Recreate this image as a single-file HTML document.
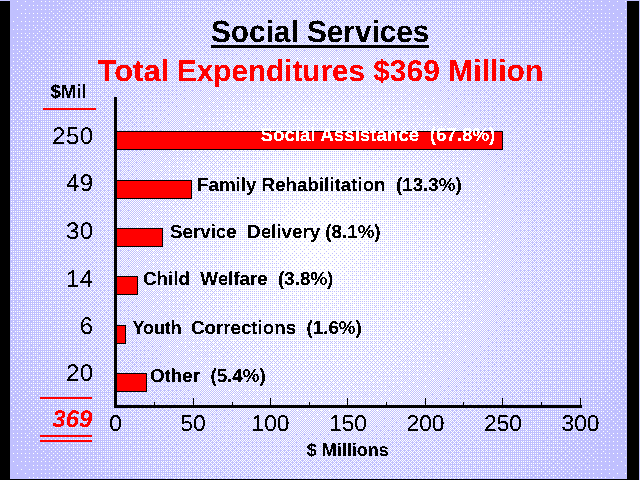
<!DOCTYPE html>
<html><head><meta charset="utf-8"><title>Social Services</title>
<style>
html,body{margin:0;padding:0;background:#000;overflow:hidden;}
svg{display:block;}
text{font-family:"Liberation Sans",sans-serif;text-rendering:geometricPrecision;}
.b{font-weight:bold;}
</style></head><body>
<svg width="640" height="480" viewBox="0 0 640 480">
<defs>
<clipPath id="slide"><rect x="10" y="0" width="617" height="479"/></clipPath>
<pattern id="p0" patternUnits="userSpaceOnUse" x="0" y="0" width="8" height="8"><rect x="1" y="1" width="1" height="1" fill="#fff"/></pattern>
<pattern id="p1" patternUnits="userSpaceOnUse" x="0" y="0" width="8" height="8"><rect x="5" y="5" width="1" height="1" fill="#fff"/></pattern>
<pattern id="p2" patternUnits="userSpaceOnUse" x="0" y="0" width="8" height="8"><rect x="1" y="5" width="1" height="1" fill="#fff"/></pattern>
<pattern id="p3" patternUnits="userSpaceOnUse" x="0" y="0" width="8" height="8"><rect x="5" y="1" width="1" height="1" fill="#fff"/></pattern>
<pattern id="p4" patternUnits="userSpaceOnUse" x="0" y="0" width="8" height="8"><rect x="3" y="3" width="1" height="1" fill="#fff"/></pattern>
<pattern id="p5" patternUnits="userSpaceOnUse" x="0" y="0" width="8" height="8"><rect x="7" y="7" width="1" height="1" fill="#fff"/></pattern>
<pattern id="p6" patternUnits="userSpaceOnUse" x="0" y="0" width="8" height="8"><rect x="3" y="7" width="1" height="1" fill="#fff"/></pattern>
<pattern id="p7" patternUnits="userSpaceOnUse" x="0" y="0" width="8" height="8"><rect x="7" y="3" width="1" height="1" fill="#fff"/></pattern>
<pattern id="p8" patternUnits="userSpaceOnUse" x="0" y="0" width="8" height="8"><rect x="1" y="3" width="1" height="1" fill="#fff"/></pattern>
<pattern id="p9" patternUnits="userSpaceOnUse" x="0" y="0" width="8" height="8"><rect x="5" y="7" width="1" height="1" fill="#fff"/></pattern>
<pattern id="p10" patternUnits="userSpaceOnUse" x="0" y="0" width="8" height="8"><rect x="1" y="7" width="1" height="1" fill="#fff"/></pattern>
<pattern id="p11" patternUnits="userSpaceOnUse" x="0" y="0" width="8" height="8"><rect x="5" y="3" width="1" height="1" fill="#fff"/></pattern>
<pattern id="p12" patternUnits="userSpaceOnUse" x="0" y="0" width="8" height="8"><rect x="3" y="1" width="1" height="1" fill="#fff"/></pattern>
<pattern id="p13" patternUnits="userSpaceOnUse" x="0" y="0" width="8" height="8"><rect x="7" y="5" width="1" height="1" fill="#fff"/></pattern>
<pattern id="p14" patternUnits="userSpaceOnUse" x="0" y="0" width="8" height="8"><rect x="3" y="5" width="1" height="1" fill="#fff"/></pattern>
<pattern id="p15" patternUnits="userSpaceOnUse" x="0" y="0" width="8" height="8"><rect x="7" y="1" width="1" height="1" fill="#fff"/></pattern>
<pattern id="p16" patternUnits="userSpaceOnUse" x="0" y="0" width="8" height="8"><rect x="2" y="2" width="1" height="1" fill="#fff"/></pattern>
<pattern id="p17" patternUnits="userSpaceOnUse" x="0" y="0" width="8" height="8"><rect x="6" y="6" width="1" height="1" fill="#fff"/></pattern>
<pattern id="p18" patternUnits="userSpaceOnUse" x="0" y="0" width="8" height="8"><rect x="2" y="6" width="1" height="1" fill="#fff"/></pattern>
<pattern id="p19" patternUnits="userSpaceOnUse" x="0" y="0" width="8" height="8"><rect x="6" y="2" width="1" height="1" fill="#fff"/></pattern>
<pattern id="p20" patternUnits="userSpaceOnUse" x="0" y="0" width="8" height="8"><rect x="4" y="4" width="1" height="1" fill="#fff"/></pattern>
<pattern id="p21" patternUnits="userSpaceOnUse" x="0" y="0" width="8" height="8"><rect x="0" y="0" width="1" height="1" fill="#fff"/></pattern>
<pattern id="p22" patternUnits="userSpaceOnUse" x="0" y="0" width="8" height="8"><rect x="4" y="0" width="1" height="1" fill="#fff"/></pattern>
<pattern id="p23" patternUnits="userSpaceOnUse" x="0" y="0" width="8" height="8"><rect x="0" y="4" width="1" height="1" fill="#fff"/></pattern>
<pattern id="p24" patternUnits="userSpaceOnUse" x="0" y="0" width="8" height="8"><rect x="2" y="4" width="1" height="1" fill="#fff"/></pattern>
<pattern id="p25" patternUnits="userSpaceOnUse" x="0" y="0" width="8" height="8"><rect x="6" y="0" width="1" height="1" fill="#fff"/></pattern>
<pattern id="p26" patternUnits="userSpaceOnUse" x="0" y="0" width="8" height="8"><rect x="2" y="0" width="1" height="1" fill="#fff"/></pattern>
<pattern id="p27" patternUnits="userSpaceOnUse" x="0" y="0" width="8" height="8"><rect x="6" y="4" width="1" height="1" fill="#fff"/></pattern>
<pattern id="p28" patternUnits="userSpaceOnUse" x="0" y="0" width="8" height="8"><rect x="4" y="2" width="1" height="1" fill="#fff"/></pattern>
<pattern id="p29" patternUnits="userSpaceOnUse" x="0" y="0" width="8" height="8"><rect x="0" y="6" width="1" height="1" fill="#fff"/></pattern>
<pattern id="p30" patternUnits="userSpaceOnUse" x="0" y="0" width="8" height="8"><rect x="4" y="6" width="1" height="1" fill="#fff"/></pattern>
<pattern id="p31" patternUnits="userSpaceOnUse" x="0" y="0" width="8" height="8"><rect x="0" y="2" width="1" height="1" fill="#fff"/></pattern>
<pattern id="p32" patternUnits="userSpaceOnUse" x="0" y="0" width="8" height="8"><rect x="1" y="2" width="1" height="1" fill="#fff"/></pattern>
<pattern id="p33" patternUnits="userSpaceOnUse" x="0" y="0" width="8" height="8"><rect x="5" y="6" width="1" height="1" fill="#fff"/></pattern>
<pattern id="p34" patternUnits="userSpaceOnUse" x="0" y="0" width="8" height="8"><rect x="1" y="6" width="1" height="1" fill="#fff"/></pattern>
<pattern id="p35" patternUnits="userSpaceOnUse" x="0" y="0" width="8" height="8"><rect x="5" y="2" width="1" height="1" fill="#fff"/></pattern>
<pattern id="p36" patternUnits="userSpaceOnUse" x="0" y="0" width="8" height="8"><rect x="3" y="4" width="1" height="1" fill="#fff"/></pattern>
<pattern id="p37" patternUnits="userSpaceOnUse" x="0" y="0" width="8" height="8"><rect x="7" y="0" width="1" height="1" fill="#fff"/></pattern>
<pattern id="p38" patternUnits="userSpaceOnUse" x="0" y="0" width="8" height="8"><rect x="3" y="0" width="1" height="1" fill="#fff"/></pattern>
<pattern id="p39" patternUnits="userSpaceOnUse" x="0" y="0" width="8" height="8"><rect x="7" y="4" width="1" height="1" fill="#fff"/></pattern>
<pattern id="p40" patternUnits="userSpaceOnUse" x="0" y="0" width="8" height="8"><rect x="1" y="4" width="1" height="1" fill="#fff"/></pattern>
<pattern id="p41" patternUnits="userSpaceOnUse" x="0" y="0" width="8" height="8"><rect x="5" y="0" width="1" height="1" fill="#fff"/></pattern>
<pattern id="p42" patternUnits="userSpaceOnUse" x="0" y="0" width="8" height="8"><rect x="1" y="0" width="1" height="1" fill="#fff"/></pattern>
<pattern id="p43" patternUnits="userSpaceOnUse" x="0" y="0" width="8" height="8"><rect x="5" y="4" width="1" height="1" fill="#fff"/></pattern>
<pattern id="p44" patternUnits="userSpaceOnUse" x="0" y="0" width="8" height="8"><rect x="3" y="2" width="1" height="1" fill="#fff"/></pattern>
<pattern id="p45" patternUnits="userSpaceOnUse" x="0" y="0" width="8" height="8"><rect x="7" y="6" width="1" height="1" fill="#fff"/></pattern>
<pattern id="p46" patternUnits="userSpaceOnUse" x="0" y="0" width="8" height="8"><rect x="3" y="6" width="1" height="1" fill="#fff"/></pattern>
<pattern id="p47" patternUnits="userSpaceOnUse" x="0" y="0" width="8" height="8"><rect x="7" y="2" width="1" height="1" fill="#fff"/></pattern>
<pattern id="p48" patternUnits="userSpaceOnUse" x="0" y="0" width="8" height="8"><rect x="2" y="1" width="1" height="1" fill="#fff"/></pattern>
<pattern id="p49" patternUnits="userSpaceOnUse" x="0" y="0" width="8" height="8"><rect x="6" y="5" width="1" height="1" fill="#fff"/></pattern>
<pattern id="p50" patternUnits="userSpaceOnUse" x="0" y="0" width="8" height="8"><rect x="2" y="5" width="1" height="1" fill="#fff"/></pattern>
<pattern id="p51" patternUnits="userSpaceOnUse" x="0" y="0" width="8" height="8"><rect x="6" y="1" width="1" height="1" fill="#fff"/></pattern>
<pattern id="p52" patternUnits="userSpaceOnUse" x="0" y="0" width="8" height="8"><rect x="4" y="3" width="1" height="1" fill="#fff"/></pattern>
<pattern id="p53" patternUnits="userSpaceOnUse" x="0" y="0" width="8" height="8"><rect x="0" y="7" width="1" height="1" fill="#fff"/></pattern>
<pattern id="p54" patternUnits="userSpaceOnUse" x="0" y="0" width="8" height="8"><rect x="4" y="7" width="1" height="1" fill="#fff"/></pattern>
<pattern id="p55" patternUnits="userSpaceOnUse" x="0" y="0" width="8" height="8"><rect x="0" y="3" width="1" height="1" fill="#fff"/></pattern>
<pattern id="p56" patternUnits="userSpaceOnUse" x="0" y="0" width="8" height="8"><rect x="2" y="3" width="1" height="1" fill="#fff"/></pattern>
<pattern id="p57" patternUnits="userSpaceOnUse" x="0" y="0" width="8" height="8"><rect x="6" y="7" width="1" height="1" fill="#fff"/></pattern>
<pattern id="p58" patternUnits="userSpaceOnUse" x="0" y="0" width="8" height="8"><rect x="2" y="7" width="1" height="1" fill="#fff"/></pattern>
<filter id="al" x="0" y="0" width="640" height="480" filterUnits="userSpaceOnUse" color-interpolation-filters="sRGB"><feComponentTransfer><feFuncA type="discrete" tableValues="0 0 0 0 0 0 0 0 0 1 1 1 1 1 1 1 1 1 1 1"/></feComponentTransfer></filter>
</defs>
<rect x="0" y="0" width="640" height="480" fill="#c0c0ff"/>
<rect x="0" y="1" width="639" height="479" fill="#000"/>
<rect x="10" y="0" width="617" height="479" fill="#c0c0ff"/>
<g clip-path="url(#slide)" shape-rendering="crispEdges">
<circle cx="318.5" cy="240" r="390.1" fill="url(#p0)"/>
<circle cx="318.5" cy="240" r="379.3" fill="url(#p1)"/>
<circle cx="318.5" cy="240" r="371.5" fill="url(#p2)"/>
<circle cx="318.5" cy="240" r="363.7" fill="url(#p3)"/>
<circle cx="318.5" cy="240" r="355.8" fill="url(#p4)"/>
<circle cx="318.5" cy="240" r="349.3" fill="url(#p5)"/>
<circle cx="318.5" cy="240" r="344.1" fill="url(#p6)"/>
<circle cx="318.5" cy="240" r="338.8" fill="url(#p7)"/>
<circle cx="318.5" cy="240" r="333.5" fill="url(#p8)"/>
<circle cx="318.5" cy="240" r="328.2" fill="url(#p9)"/>
<circle cx="318.5" cy="240" r="323.0" fill="url(#p10)"/>
<circle cx="318.5" cy="240" r="317.7" fill="url(#p11)"/>
<circle cx="318.5" cy="240" r="312.4" fill="url(#p12)"/>
<circle cx="318.5" cy="240" r="307.2" fill="url(#p13)"/>
<circle cx="318.5" cy="240" r="301.9" fill="url(#p14)"/>
<circle cx="318.5" cy="240" r="296.6" fill="url(#p15)"/>
<circle cx="318.5" cy="240" r="290.8" fill="url(#p16)"/>
<circle cx="318.5" cy="240" r="284.2" fill="url(#p17)"/>
<circle cx="318.5" cy="240" r="277.8" fill="url(#p18)"/>
<circle cx="318.5" cy="240" r="271.2" fill="url(#p19)"/>
<circle cx="318.5" cy="240" r="264.8" fill="url(#p20)"/>
<circle cx="318.5" cy="240" r="258.2" fill="url(#p21)"/>
<circle cx="318.5" cy="240" r="251.8" fill="url(#p22)"/>
<circle cx="318.5" cy="240" r="245.2" fill="url(#p23)"/>
<circle cx="318.5" cy="240" r="238.1" fill="url(#p24)"/>
<circle cx="318.5" cy="240" r="230.4" fill="url(#p25)"/>
<circle cx="318.5" cy="240" r="222.6" fill="url(#p26)"/>
<circle cx="318.5" cy="240" r="214.9" fill="url(#p27)"/>
<circle cx="318.5" cy="240" r="208.0" fill="url(#p28)"/>
<circle cx="318.5" cy="240" r="202.0" fill="url(#p29)"/>
<circle cx="318.5" cy="240" r="196.0" fill="url(#p30)"/>
<circle cx="318.5" cy="240" r="190.0" fill="url(#p31)"/>
<circle cx="318.5" cy="240" r="183.2" fill="url(#p32)"/>
<circle cx="318.5" cy="240" r="175.8" fill="url(#p33)"/>
<circle cx="318.5" cy="240" r="168.2" fill="url(#p34)"/>
<circle cx="318.5" cy="240" r="160.8" fill="url(#p35)"/>
<circle cx="318.5" cy="240" r="154.4" fill="url(#p36)"/>
<circle cx="318.5" cy="240" r="149.1" fill="url(#p37)"/>
<circle cx="318.5" cy="240" r="143.9" fill="url(#p38)"/>
<circle cx="318.5" cy="240" r="138.6" fill="url(#p39)"/>
<circle cx="318.5" cy="240" r="133.0" fill="url(#p40)"/>
<circle cx="318.5" cy="240" r="127.0" fill="url(#p41)"/>
<circle cx="318.5" cy="240" r="121.0" fill="url(#p42)"/>
<circle cx="318.5" cy="240" r="115.0" fill="url(#p43)"/>
<circle cx="318.5" cy="240" r="108.6" fill="url(#p44)"/>
<circle cx="318.5" cy="240" r="101.6" fill="url(#p45)"/>
<circle cx="318.5" cy="240" r="94.5" fill="url(#p46)"/>
<circle cx="318.5" cy="240" r="87.5" fill="url(#p47)"/>
<circle cx="318.5" cy="240" r="79.8" fill="url(#p48)"/>
<circle cx="318.5" cy="240" r="71.5" fill="url(#p49)"/>
<circle cx="318.5" cy="240" r="63.2" fill="url(#p50)"/>
<circle cx="318.5" cy="240" r="54.8" fill="url(#p51)"/>
<circle cx="318.5" cy="240" r="49.3" fill="url(#p52)"/>
<circle cx="318.5" cy="240" r="45.2" fill="url(#p53)"/>
<circle cx="318.5" cy="240" r="41.1" fill="url(#p54)"/>
<circle cx="318.5" cy="240" r="37.0" fill="url(#p55)"/>
<circle cx="318.5" cy="240" r="30.3" fill="url(#p56)"/>
<circle cx="318.5" cy="240" r="20.9" fill="url(#p57)"/>
<circle cx="318.5" cy="240" r="1.3" fill="url(#p58)"/>
</g>
<g shape-rendering="crispEdges">
<rect x="114" y="97" width="3" height="311" fill="#000"/>
<rect x="114" y="405" width="468" height="3" fill="#000"/>
<rect x="193" y="398" width="1" height="7" fill="#000"/>
<rect x="270" y="398" width="1" height="7" fill="#000"/>
<rect x="347" y="398" width="1" height="7" fill="#000"/>
<rect x="425" y="398" width="1" height="7" fill="#000"/>
<rect x="502" y="398" width="1" height="7" fill="#000"/>
<rect x="580" y="398" width="1" height="7" fill="#000"/>
<rect x="154" y="402" width="1" height="3" fill="#000"/>
<rect x="232" y="402" width="1" height="3" fill="#000"/>
<rect x="309" y="402" width="1" height="3" fill="#000"/>
<rect x="386" y="402" width="1" height="3" fill="#000"/>
<rect x="463" y="402" width="1" height="3" fill="#000"/>
<rect x="541" y="402" width="1" height="3" fill="#000"/>
<rect x="117" y="131" width="386" height="19" fill="#000"/>
<rect x="117" y="132" width="385" height="17" fill="#f00"/>
<rect x="117" y="180" width="75" height="19" fill="#000"/>
<rect x="117" y="181" width="74" height="17" fill="#f00"/>
<rect x="117" y="228" width="46" height="19" fill="#000"/>
<rect x="117" y="229" width="45" height="17" fill="#f00"/>
<rect x="117" y="276" width="21" height="19" fill="#000"/>
<rect x="117" y="277" width="20" height="17" fill="#f00"/>
<rect x="117" y="325" width="9" height="19" fill="#000"/>
<rect x="117" y="326" width="8" height="17" fill="#f00"/>
<rect x="117" y="373" width="30" height="19" fill="#000"/>
<rect x="117" y="374" width="29" height="17" fill="#f00"/>
<rect x="43" y="108" width="53" height="2" fill="#f00"/>
<rect x="40" y="397" width="52" height="2" fill="#f00"/>
<rect x="40" y="435" width="52" height="2" fill="#f00"/>
<rect x="40" y="440" width="52" height="2" fill="#f00"/>
<rect x="211" y="45" width="218" height="3" fill="#000"/>
</g>
<g filter="url(#al)">
<text class="b" x="211" y="41.6" font-size="30.8" textLength="218.4" lengthAdjust="spacingAndGlyphs" fill="#000">Social Services</text>
<text class="b" y="80.5" font-size="30" fill="#f00"><tspan x="97.5" textLength="71.8" lengthAdjust="spacingAndGlyphs">Total</tspan> <tspan x="177" textLength="188" lengthAdjust="spacingAndGlyphs">Expenditures</tspan> <tspan x="373.2">$369 Million</tspan></text>
<text class="b" x="50.4" y="97.5" font-size="19.4" textLength="36.3" lengthAdjust="spacingAndGlyphs" fill="#000">$Mil</text>
<text x="93.8" y="144" font-size="24" letter-spacing="0.6" text-anchor="end" fill="#000">250</text>
<text x="93.8" y="191" font-size="24" letter-spacing="0.6" text-anchor="end" fill="#000">49</text>
<text x="93.8" y="239" font-size="24" letter-spacing="0.6" text-anchor="end" fill="#000">30</text>
<text x="93.8" y="287" font-size="24" letter-spacing="0.6" text-anchor="end" fill="#000">14</text>
<text x="93.8" y="334" font-size="24" letter-spacing="0.6" text-anchor="end" fill="#000">6</text>
<text x="93.8" y="381" font-size="24" letter-spacing="0.6" text-anchor="end" fill="#000">20</text>
<text class="b" x="92.4" y="427" font-size="24" font-style="italic" text-anchor="end" fill="#f00">369</text>
<g transform="translate(0,431) scale(1,1) translate(0,-431)">
<text x="115.5" y="431" font-size="22.8" text-anchor="middle" fill="#000">0</text>
<text x="193.0" y="431" font-size="22.8" text-anchor="middle" fill="#000">50</text>
<text x="270.5" y="431" font-size="22.8" text-anchor="middle" fill="#000">100</text>
<text x="348.0" y="431" font-size="22.8" text-anchor="middle" fill="#000">150</text>
<text x="425.5" y="431" font-size="22.8" text-anchor="middle" fill="#000">200</text>
<text x="503.0" y="431" font-size="22.8" text-anchor="middle" fill="#000">250</text>
<text x="580.5" y="431" font-size="22.8" text-anchor="middle" fill="#000">300</text>
</g>
<text class="b" x="306.8" y="455.5" font-size="18" fill="#000">$ Millions</text>
<text class="b" x="260.5" y="140.5" font-size="18.75" fill="#fff" xml:space="preserve">Social Assistance  (67.8%)</text>
<text class="b" x="197" y="190.5" font-size="18.75" fill="#000" xml:space="preserve">Family Rehabilitation  (13.3%)</text>
<text class="b" x="170" y="237.5" font-size="18.75" fill="#000" xml:space="preserve">Service  Delivery (8.1%)</text>
<text class="b" x="143" y="285" font-size="18.75" fill="#000" xml:space="preserve">Child  Welfare  (3.8%)</text>
<text class="b" y="333.5" font-size="18.75" fill="#000" xml:space="preserve"><tspan x="132.5" textLength="49.2" lengthAdjust="spacingAndGlyphs">Youth</tspan> <tspan x="190.9">Corrections  (1.6%)</tspan></text>
<text class="b" x="150" y="381.5" font-size="18.75" fill="#000" xml:space="preserve">Other  (5.4%)</text>
</g>
</svg>
</body></html>
